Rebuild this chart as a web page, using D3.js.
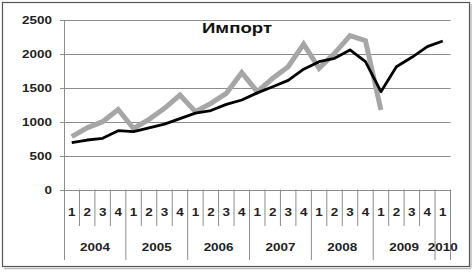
<!DOCTYPE html>
<html><head><meta charset="utf-8">
<script src="https://cdn.jsdelivr.net/npm/d3@7"></script>
<style>html,body{margin:0;padding:0;background:#fff}svg{display:block}</style>
</head><body><svg id="c" width="473" height="272"></svg>
<script>
const title = "Импорт";
const quarters = ["1","2","3","4","1","2","3","4","1","2","3","4","1","2","3","4","1","2","3","4","1","2","3","4","1"];
const years = ["2004","2005","2006","2007","2008","2009","2010"];
const yearSpans = [4,4,4,4,4,4,1];
const blackSeries = [690,730,755,868,853,910,965,1045,1126,1165,1255,1320,1425,1515,1610,1775,1885,1935,2058,1885,1443,1811,1950,2107,2190];
const graySeries = [780,910,1000,1180,900,1035,1197,1394,1148,1271,1419,1723,1443,1640,1811,2145,1788,2009,2270,2195,1173];
const yTicks = [0,500,1000,1500,2000,2500];

const svg = d3.select("#c");
const L = 64, R = 450.5, T = 20, B = 189.5;
const x = d3.scaleBand().domain(d3.range(quarters.length)).range([L, R]).padding(0);
const y = d3.scaleLinear().domain([0, 2500]).range([B, T]);
const font = "'Liberation Sans', Arial, sans-serif";

// frame
svg.append("rect").attr("x",2.5).attr("y",2.5).attr("width",467).attr("height",264)
  .attr("fill","#fff").attr("stroke","#555").attr("stroke-width",1.2);
svg.append("line").attr("x1",471).attr("x2",471).attr("y1",4).attr("y2",268).attr("stroke","#bbb").attr("stroke-width",1.5);
svg.append("line").attr("x1",4).attr("x2",471).attr("y1",268.5).attr("y2",268.5).attr("stroke","#bbb").attr("stroke-width",1.5);

// gridlines
svg.append("g").selectAll("line").data(yTicks).join("line")
  .attr("x1", L - 4).attr("x2", R).attr("y1", d => Math.round(y(d)) + 0.5).attr("y2", d => Math.round(y(d)) + 0.5)
  .attr("stroke", "#8c8c8c").attr("stroke-width", 1);

// y axis line
svg.append("line").attr("x1", L + 0.5).attr("x2", L + 0.5).attr("y1", T).attr("y2", 260)
  .attr("stroke", "#8c8c8c");

// y labels
svg.append("g").selectAll("text").data(yTicks).join("text")
  .attr("transform", d => `translate(52,${y(d) + 4}) scale(1.28,1)`)
  .attr("text-anchor", "end").attr("font-family", font).attr("font-weight", "bold")
  .attr("font-size", "10.5px").attr("fill", "#222").text(d => d);

// category separators
const bounds = d3.range(quarters.length + 1);
const yearBounds = new Set([0]);
let acc = 0; yearSpans.forEach(s => { acc += s; yearBounds.add(acc); });
svg.append("g").selectAll("line").data(bounds.filter(i => i > 0)).join("line")
  .attr("x1", i => (i < quarters.length ? x(i) : R)).attr("x2", i => (i < quarters.length ? x(i) : R))
  .attr("y1", B).attr("y2", i => yearBounds.has(i) ? 260 : 226)
  .attr("stroke", "#8c8c8c");

// quarter labels
svg.append("g").selectAll("text").data(quarters).join("text")
  .attr("transform", (d, i) => `translate(${x(i) + x.bandwidth() / 2},216) scale(1.17,1)`)
  .attr("text-anchor", "middle").attr("font-family", font).attr("font-weight", "bold")
  .attr("font-size", "11.5px").attr("fill", "#222").text(d => d);

// year labels
let start = 0;
const yearPos = years.map((yr, k) => { const s = start; start += yearSpans[k]; return {yr, s, e: start}; });
svg.append("g").selectAll("text").data(yearPos).join("text")
  .attr("transform", d => `translate(${(x(d.s) + (d.e < quarters.length ? x(d.e) : R)) / 2},251) scale(1.17,1)`)
  .attr("text-anchor", "middle").attr("font-family", font).attr("font-weight", "bold")
  .attr("font-size", "11.5px").attr("fill", "#222").text(d => d.yr);

// lines
const line = d3.line().x((d, i) => x(i) + x.bandwidth() / 2).y(d => y(d)).curve(d3.curveLinear);
svg.append("path").datum(graySeries).attr("d", line).attr("fill", "none")
  .attr("stroke", "#a6a6a6").attr("stroke-width", 5).attr("stroke-linejoin", "miter");
svg.append("path").datum(blackSeries).attr("d", line).attr("fill", "none")
  .attr("stroke", "#000").attr("stroke-width", 2.8).attr("stroke-linejoin", "round");

// title
svg.append("text").attr("transform", "translate(237,32.5) scale(1.33,1)")
  .attr("text-anchor", "middle").attr("font-family", font).attr("font-weight", "bold")
  .attr("font-size", "14px").attr("fill", "#111").text(title);
</script></body></html>
